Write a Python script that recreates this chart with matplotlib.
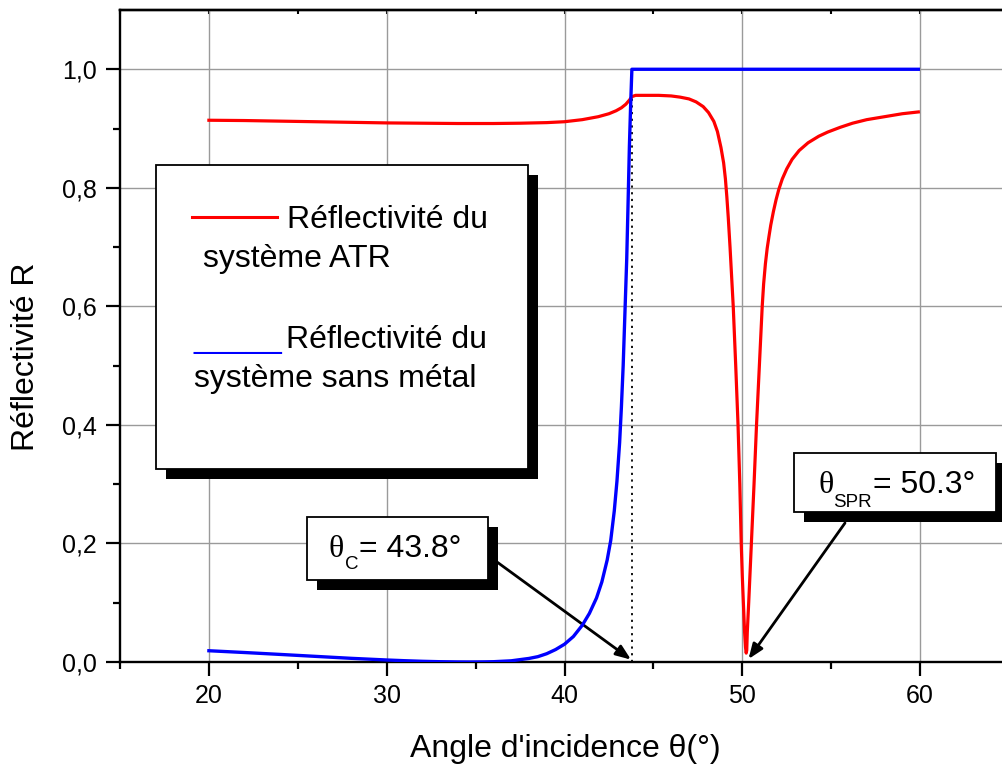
import matplotlib
matplotlib.use("Agg")
import matplotlib.pyplot as plt
from matplotlib.patches import Rectangle
from matplotlib.lines import Line2D

plt.rcParams['font.family'] = ['Liberation Sans', 'DejaVu Sans']

# Reflectivity of the ATR (prism / metal) system versus incidence angle
theta_atr = [20.0, 22.0, 24.0, 26.0, 28.0, 30.0, 32.0, 34.0, 36.0, 37.5, 39.0, 40.0,
             41.0, 41.9, 42.5, 42.9, 43.2, 43.45, 43.65, 43.8, 44.0, 44.5, 45.3, 46.0,
             46.5, 47.0, 47.4, 47.8, 48.1, 48.4, 48.6, 48.8, 48.95, 49.05, 49.13, 49.21,
             49.31, 49.4, 49.49, 49.63, 49.76, 49.86, 49.94, 50.0, 50.06, 50.13, 50.18,
             50.22, 50.25, 50.28, 50.36, 50.51, 50.66, 50.8, 50.96, 51.12, 51.2, 51.3,
             51.4, 51.5, 51.6, 51.75, 51.9, 52.05, 52.25, 52.5, 52.8, 53.2, 53.7, 54.3,
             54.8, 55.5, 56.2, 57.0, 58.0, 59.0, 59.9]
refl_atr = [0.914, 0.9135, 0.9125, 0.9115, 0.9105, 0.9095, 0.909, 0.9085, 0.9085, 0.909, 0.910, 0.9115,
            0.915, 0.920, 0.925, 0.930, 0.935, 0.941, 0.948, 0.954, 0.956, 0.956, 0.956, 0.955,
            0.953, 0.950, 0.945, 0.937, 0.927, 0.912, 0.895, 0.868, 0.842, 0.815, 0.785, 0.750,
            0.700, 0.650, 0.600, 0.500, 0.400, 0.300, 0.200, 0.145, 0.100, 0.050, 0.025,
            0.015, 0.020, 0.050, 0.100, 0.200, 0.300, 0.400, 0.500, 0.600, 0.638, 0.672,
            0.698, 0.718, 0.737, 0.760, 0.780, 0.797, 0.815, 0.832, 0.848, 0.863, 0.876, 0.887,
            0.894, 0.902, 0.909, 0.915, 0.920, 0.925, 0.928]

# Reflectivity of the same interface without the metal layer
theta_bare = [20.0, 22.0, 24.0, 26.0, 28.0, 30.0, 31.0, 32.0, 33.0, 34.0, 34.7, 35.5,
              36.0, 37.0, 38.0, 38.5, 39.0, 39.5, 40.0, 40.5, 41.0, 41.4, 41.8, 42.1,
              42.4, 42.6, 42.8, 42.95, 43.1, 43.2, 43.3, 43.4, 43.5, 43.58, 43.65, 43.72,
              43.79, 45.0, 50.0, 55.0, 59.9]
refl_bare = [0.019, 0.016, 0.0128, 0.0095, 0.0062, 0.0034, 0.0022, 0.0012, 0.0005, 0.0001, 0.0, 0.0002,
             0.0005, 0.002, 0.006, 0.009, 0.014, 0.021, 0.030, 0.043, 0.062, 0.082, 0.108, 0.135,
             0.172, 0.205, 0.255, 0.305, 0.370, 0.430, 0.500, 0.590, 0.680, 0.780, 0.870, 0.940,
             1.000, 1.000, 1.000, 1.000, 1.000]

theta_c = 43.8     # critical angle
theta_spr = 50.3   # plasmon resonance angle
r_peak = 0.955     # ATR reflectivity at the critical angle

x_major = [20, 30, 40, 50, 60]
x_minor = [15, 25, 35, 45, 55, 65]
y_major = [0.0, 0.2, 0.4, 0.6, 0.8, 1.0]
y_minor = [0.1, 0.3, 0.5, 0.7, 0.9]
y_labels = ['0,0', '0,2', '0,4', '0,6', '0,8', '1,0']

W, H = 1003, 767
fig = plt.figure(figsize=(W / 100, H / 100), dpi=100)


def fx(x):
    return x / W


def fy(y):
    return 1 - y / H


ax_l, ax_r, ax_t, ax_b = 120, 1009, 10, 662
ax = fig.add_axes([fx(ax_l), fy(ax_b), (ax_r - ax_l) / W, (ax_b - ax_t) / H])
ax.set_xlim(15, 65)
ax.set_ylim(0, 1.1)

ax.grid(True, which='major', color='#9a9a9a', linewidth=1.0, zorder=0)
ax.set_axisbelow(True)

ax.plot([theta_c, theta_c], [0, r_peak], color='black', linewidth=1.3,
        linestyle=(0, (1.2, 2.5)), zorder=2)
ax.plot(theta_atr, refl_atr, color='#ff0000', linewidth=2.3, zorder=3,
        solid_joinstyle='round')
ax.plot(theta_bare, refl_bare, color='#0000ff', linewidth=2.4, zorder=4,
        solid_joinstyle='round')

ax.set_xticks(x_major)
ax.set_xticks(x_minor, minor=True)
ax.set_yticks(y_major)
ax.set_yticks(y_minor, minor=True)
ax.set_yticklabels(y_labels)
ax.tick_params(which='major', direction='out', length=10, width=1.6, labelsize=18,
               colors='black')
ax.tick_params(which='minor', direction='out', length=5, width=1.6)
ax.tick_params(axis='y', pad=7)
ax.tick_params(axis='x', pad=6)
for s in ['left', 'bottom', 'top']:
    ax.spines[s].set_linewidth(1.7)
ax.spines['right'].set_visible(False)

top = ax.secondary_xaxis('top')
top.set_xticks(x_major)
top.set_xticks(x_minor, minor=True)
top.tick_params(which='both', direction='in', length=3, width=1.5, labeltop=False)
top.spines['top'].set_linewidth(1.7)

fig.text(fx(26), fy(357), 'Réflectivité R', rotation=90, ha='center', va='center',
         fontsize=23)
fig.text(fx(565.8), fy(756.7), "Angle d'incidence θ(°)", ha='center', va='baseline',
         fontsize=23)


def shadow_box(x0, y0, x1, y1, off=10):
    sh = Rectangle((fx(x0 + off), fy(y1 + off)), (x1 - x0) / W, (y1 - y0) / H,
                   transform=fig.transFigure, facecolor='black', edgecolor='black',
                   linewidth=0, zorder=5)
    bx = Rectangle((fx(x0), fy(y1)), (x1 - x0) / W, (y1 - y0) / H,
                   transform=fig.transFigure, facecolor='white', edgecolor='black',
                   linewidth=1.3, zorder=6)
    fig.add_artist(sh)
    fig.add_artist(bx)


def ftxt(x, y, s, **kw):
    kw.setdefault('fontsize', 23)
    fig.text(fx(x), fy(y), s, ha='left', va='baseline', zorder=7, **kw)


# Legend panel
shadow_box(156, 165, 528, 469)
fig.add_artist(Line2D([fx(192), fx(277)], [fy(216.7), fy(216.7)], color='#ff0000',
                      linewidth=2.2, transform=fig.transFigure, zorder=7))
ftxt(286.7, 228.3, 'Réflectivité du')
ftxt(202.7, 267.3, 'système ATR')
ftxt(193.3, 348.3, '_____', color='#0000ff')
ftxt(286.0, 348.3, 'Réflectivité du')
ftxt(194.0, 386.7, 'système sans métal')

# Arrows pointing at the critical and resonance angles
arrow = dict(arrowstyle='-|>,head_length=0.9,head_width=0.35', color='black',
             linewidth=2.0, shrinkA=0, shrinkB=0)
ax.annotate('', xy=(theta_c - 0.06, 0.004), xycoords='data',
            xytext=(497, H - 562), textcoords='figure pixels', arrowprops=arrow)
ax.annotate('', xy=(theta_spr + 0.05, 0.005), xycoords='data',
            xytext=(845, H - 523), textcoords='figure pixels', arrowprops=arrow)

# Angle labels
shadow_box(306.7, 517, 487.6, 580)
ftxt(328.4, 557, 'θ', family=['Liberation Serif', 'DejaVu Serif'], fontsize=23)
ftxt(344.6, 568.8, 'C', fontsize=13.5)
ftxt(359.3, 557, f'= {theta_c}°')

shadow_box(794.3, 453.3, 996, 511.7)
ftxt(818.3, 493.3, 'θ', family=['Liberation Serif', 'DejaVu Serif'], fontsize=23)
ftxt(833.3, 506.7, 'SPR', fontsize=13.5)
ftxt(873.3, 493.3, f'= {theta_spr}°')

fig.savefig('out.png', dpi=100)
